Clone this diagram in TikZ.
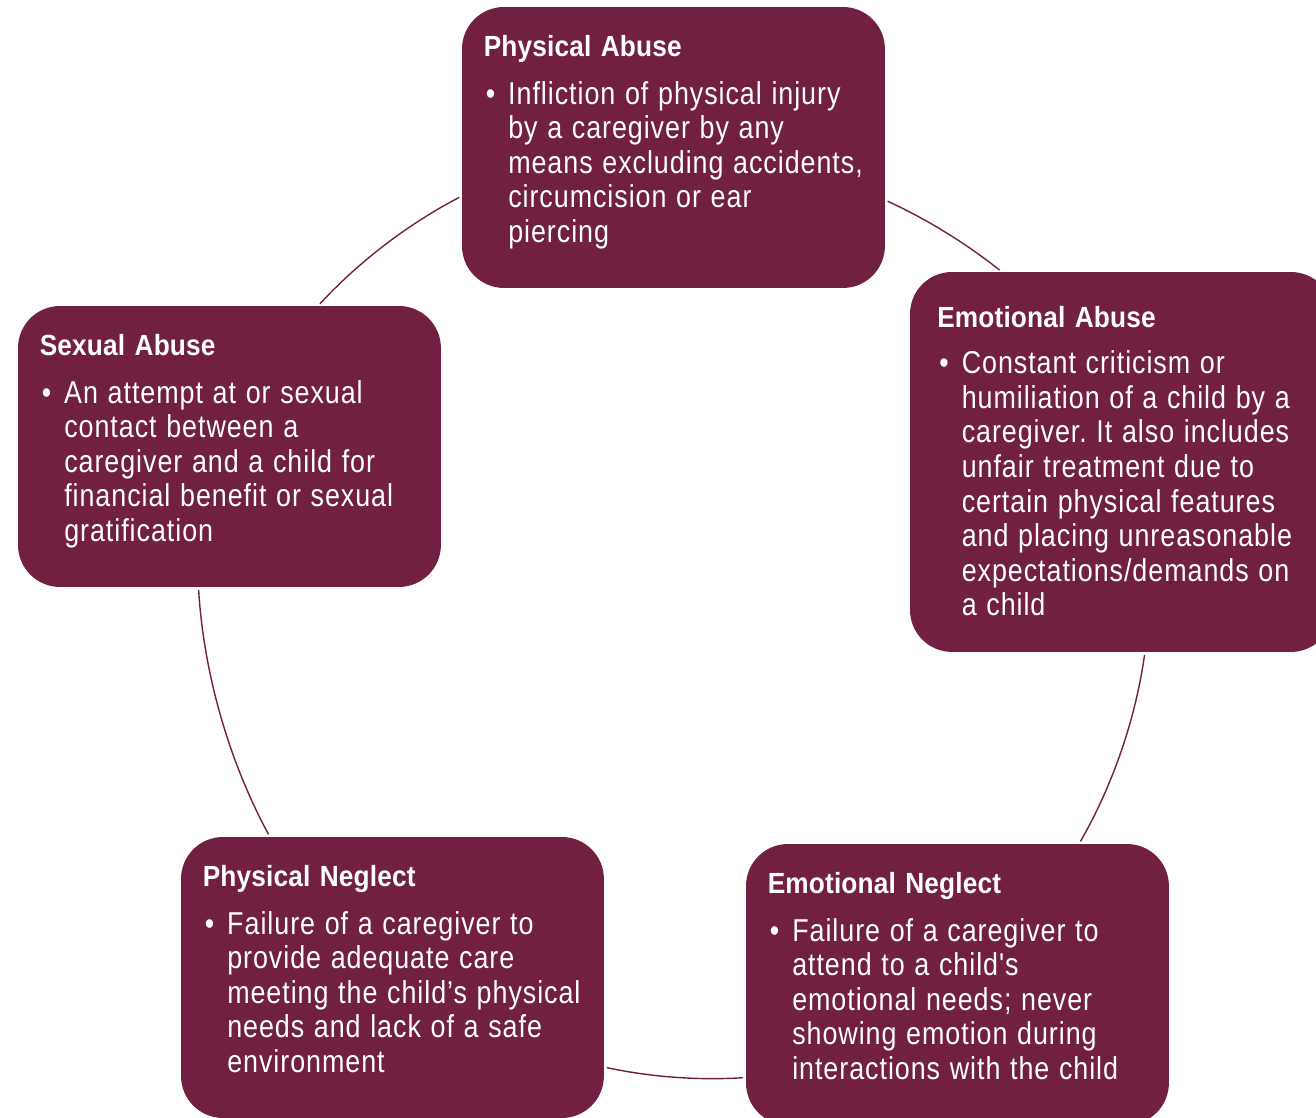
\documentclass[tikz,border=0pt]{standalone}
\usepackage{fontspec}
\usetikzlibrary{calc}
\newfontfamily\ttlfont{Liberation Sans}[FakeStretch=0.9, LetterSpace=0.5]
\newfontfamily\bdyfont{Liberation Sans}[FakeStretch=0.85, LetterSpace=3]
\definecolor{boxred}{HTML}{722041}
\newcommand\boxtitle{\ttlfont\bfseries\fontsize{16.6pt}{20pt}\selectfont\spaceskip=5.4pt plus 1pt minus 1pt\relax}
\newcommand\boxbody{\bdyfont\fontsize{18pt}{19.67pt}\selectfont\spaceskip=5.5pt plus 1pt minus 1pt\relax}
\newcommand\firstline{\makebox[13.9pt][l]{\hspace{1.2pt}•}}
\newcommand\nextline{\hspace*{13.9pt}}
\frenchspacing
\begin{document}
\begin{tikzpicture}[x=0.02cm,y=0.02cm,
  card/.style={fill=boxred, rounded corners=0.84cm, minimum width=8.46cm,
    minimum height=5.62cm, inner sep=0pt, outer sep=0pt, anchor=north west},
  cardtext/.style={text=white, anchor=base west, align=left, text width=8cm, inner sep=0pt},
  link/.style={draw=boxred, line width=0.8pt, shorten <=1.7pt, shorten >=1.7pt, looseness=0.85}]
\useasboundingbox (0,0) rectangle (1316,-1117);

% boxes
\node[card] (pa) at (462,-7) {};
\node[card, minimum height=7.6cm] (ea) at (910,-272) {};
\node[card] (sa) at (18,-306) {};
\node[card] (pn) at (181,-837) {};
\node[card] (en) at (746,-844) {};

% texts
\node[cardtext] (paT) at ($(pa.north west)+(21.5,-49.5)$) {{\boxtitle Physical Abuse}\\[7.5pt]
\boxbody\firstline Infliction of physical injury\\
\nextline by a caregiver by any\\
\nextline means excluding accidents,\\
\nextline circumcision or ear\\
\nextline piercing\par};

\node[cardtext] (eaT) at ($(ea.north west)+(27,-55)$) {{\boxtitle Emotional Abuse}\\[7.0pt]
\boxbody\firstline Constant criticism or\\
\nextline humiliation of a child by a\\
\nextline caregiver. It also includes\\
\nextline unfair treatment due to\\
\nextline certain physical features\\
\nextline and placing unreasonable\\
\nextline expectations/demands on\\
\nextline a child\par};

\node[cardtext] (saT) at ($(sa.north west)+(21.5,-49.5)$) {{\boxtitle Sexual Abuse}\\[7.5pt]
\boxbody\firstline An attempt at or sexual\\
\nextline contact between a\\
\nextline caregiver and a child for\\
\nextline financial benefit or sexual\\
\nextline gratification\par};

\node[cardtext] (pnT) at ($(pn.north west)+(21.5,-49.5)$) {{\boxtitle Physical Neglect}\\[7.5pt]
\boxbody\firstline Failure of a caregiver to\\
\nextline provide adequate care\\
\nextline meeting the child’s physical\\
\nextline needs and lack of a safe\\
\nextline environment\par};

\node[cardtext] (enT) at ($(en.north west)+(21.5,-49.5)$) {{\boxtitle Emotional Neglect}\\[7.5pt]
\boxbody\firstline Failure of a caregiver to\\
\nextline attend to a child's\\
\nextline emotional needs; never\\
\nextline showing emotion during\\
\nextline interactions with the child\par};

% connecting arcs
\draw[link] ($(sa.north)+(88.5,0)$) to[bend left=10] ($(pa.west)+(0,-48.5)$);
\draw[link] ($(pa.east)+(0,-52.5)$) to[bend left=7] ($(ea.north)+(-119.5,0)$);
\draw[link] ($(ea.south)+(23.5,0)$) to[bend left=11] ($(en.north)+(121.5,0)$);
\draw[link] ($(en.west)+(0,-93)$) to[bend left=8] ($(pn.east)+(0,-89.5)$);
\draw[link] ($(pn.north)+(-122.5,0)$) to[bend left=12.5] ($(sa.south)+(-31,0)$);
\end{tikzpicture}
\end{document}
